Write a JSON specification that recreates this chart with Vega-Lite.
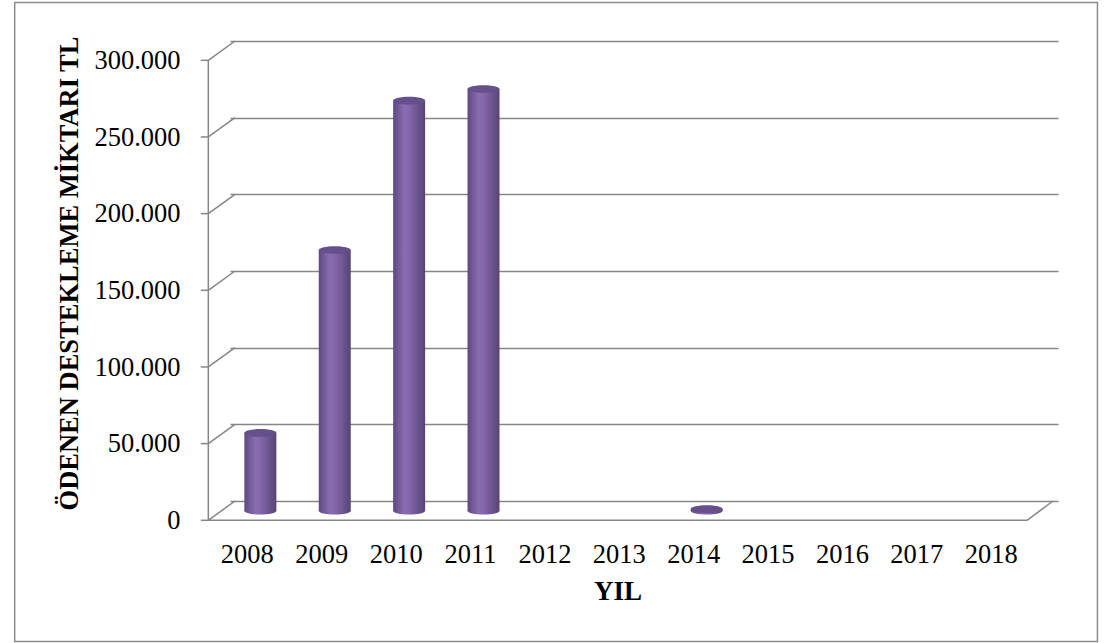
{
  "$schema": "https://vega.github.io/schema/vega-lite/v6.json",
  "autosize": {"type": "none"},
  "width": 828,
  "height": 460,
  "padding": {"left": 230, "top": 41, "right": 50, "bottom": 142},
  "background": "white",
  "config": {
    "view": {"stroke": null},
    "font": "Liberation Serif",
    "locale": {"number": {"decimal": ",", "thousands": ".", "grouping": [3], "currency": ["", ""]}}
  },
  "datasets": {
    "odeme": [
      {"yil": 2008, "tutar": 50700},
      {"yil": 2009, "tutar": 170000},
      {"yil": 2010, "tutar": 267400},
      {"yil": 2011, "tutar": 275000},
      {"yil": 2012, "tutar": 0},
      {"yil": 2013, "tutar": 0},
      {"yil": 2014, "tutar": 1000},
      {"yil": 2015, "tutar": 0},
      {"yil": 2016, "tutar": 0},
      {"yil": 2017, "tutar": 0},
      {"yil": 2018, "tutar": 0}
    ],
    "izgara": [
      {"v": 0}, {"v": 50000}, {"v": 100000}, {"v": 150000},
      {"v": 200000}, {"v": 250000}, {"v": 300000}
    ]
  },
  "layer": [
    {
      "data": {"name": "odeme"},
      "mark": {"type": "bar", "opacity": 0},
      "encoding": {
        "x": {"field": "yil", "type": "quantitative", "scale": {"domain": [2007.8406, 2018.8366], "nice": false, "zero": false},
          "axis": {"values": [2008, 2009, 2010, 2011, 2012, 2013, 2014, 2015, 2016, 2017, 2018], "format": "d", "grid": false, "ticks": false, "domain": false,
            "labelFont": "Liberation Serif", "labelFontSize": 26.5, "labelColor": "#000000", "labelPadding": 40, "labelFlush": false, "labelOverlap": false, "labelBound": false,
            "title": "YIL", "titleFont": "Liberation Serif", "titleFontSize": 27, "titleFontWeight": "bold", "titleColor": "#000000", "titleX": 387.5, "titleY": 90.5, "titleBaseline": "middle", "titleAnchor": "middle"}},
        "y": {"field": "tutar", "type": "quantitative", "scale": {"domain": [0, 300000], "nice": false},
          "axis": {"values": [0, 50000, 100000, 150000, 200000, 250000, 300000], "format": ",d", "grid": true, "gridColor": "#868686", "gridWidth": 1.5, "ticks": false, "domain": false,
            "labelFont": "Liberation Serif", "labelFontSize": 26.5, "labelColor": "#000000", "labelPadding": 50, "labelOffset": 19.5, "labelBaseline": "middle", "labelFlush": false, "labelOverlap": false, "labelBound": false,
            "title": "ÖDENEN DESTEKLEME MİKTARI TL", "titleFont": "Liberation Serif", "titleFontSize": 26.5, "titleFontWeight": "bold", "titleColor": "#000000", "titleX": -161, "titleY": 232, "titleBaseline": "middle", "titleAngle": 270, "titleAnchor": "middle"}}
      }
    },
    {
      "data": {"values": [{}]},
      "mark": {"type": "rect", "filled": false, "stroke": "#8c8c8c", "strokeWidth": 1.5},
      "encoding": {
        "x": {"datum": 2004.879, "type": "quantitative"},
        "x2": {"datum": 2019.434},
        "y": {"datum": 325109, "type": "quantitative"},
        "y2": {"datum": -91630}
      }
    },
    {
      "data": {"name": "izgara"},
      "mark": {"type": "rule", "color": "#868686", "strokeWidth": 1.5, "yOffset": 19.3},
      "encoding": {
        "x": {"datum": 2007.482, "type": "quantitative"},
        "x2": {"datum": 2007.8406},
        "y": {"field": "v", "type": "quantitative"},
        "y2": {"field": "v"}
      }
    },
    {
      "data": {"name": "izgara"},
      "mark": {"type": "rule", "color": "#868686", "strokeWidth": 1.5, "yOffset": 19.3, "xOffset": -7.5},
      "encoding": {
        "x": {"datum": 2007.482, "type": "quantitative"},
        "x2": {"datum": 2007.482},
        "y": {"field": "v", "type": "quantitative"}
      }
    },
    {
      "data": {"values": [{}]},
      "mark": {"type": "rule", "color": "#868686", "strokeWidth": 1.5, "yOffset": 19.3, "y2Offset": 19.3},
      "encoding": {
        "x": {"datum": 2007.482, "type": "quantitative"},
        "y": {"datum": 0, "type": "quantitative"},
        "y2": {"datum": 300000}
      }
    },
    {
      "data": {"values": [{}]},
      "mark": {"type": "rule", "color": "#868686", "strokeWidth": 1.5, "yOffset": 19.3},
      "encoding": {
        "x": {"datum": 2007.482, "type": "quantitative"},
        "x2": {"datum": 2018.487},
        "y": {"datum": 0, "type": "quantitative"}
      }
    },
    {
      "data": {"values": [{}]},
      "mark": {"type": "rule", "color": "#868686", "strokeWidth": 1.5, "yOffset": 19.3},
      "encoding": {
        "x": {"datum": 2018.487, "type": "quantitative"},
        "x2": {"datum": 2018.8366},
        "y": {"datum": 0, "type": "quantitative"},
        "y2": {"datum": 0}
      }
    },
    {
      "data": {"name": "odeme"},
      "transform": [{"filter": "datum.tutar > 0"}],
      "mark": {"type": "point", "shape": "M-1,0A1,0.24,0,1,0,1,0A1,0.24,0,1,0,-1,0Z", "size": 1024, "filled": true, "opacity": 1, "strokeWidth": 0, "xOffset": 13.5, "yOffset": 9.7,
        "fill": {"gradient": "linear", "x1": 0, "y1": 0, "x2": 1, "y2": 0, "stops": [{"offset": 0, "color": "#5d4982"}, {"offset": 0.35, "color": "#8a6db0"}, {"offset": 0.5, "color": "#8467aa"}, {"offset": 1, "color": "#574477"}]}},
      "encoding": {
        "x": {"field": "yil", "type": "quantitative"},
        "y": {"datum": 0, "type": "quantitative"}
      }
    },
    {
      "data": {"name": "odeme"},
      "transform": [{"filter": "datum.tutar > 0"}],
      "mark": {"type": "bar", "width": 32, "xOffset": 13.5, "yOffset": 9.7, "y2Offset": 9.7,
        "fill": {"gradient": "linear", "x1": 0, "y1": 0, "x2": 1, "y2": 0, "stops": [{"offset": 0, "color": "#5d4982"}, {"offset": 0.35, "color": "#8a6db0"}, {"offset": 0.5, "color": "#8467aa"}, {"offset": 1, "color": "#574477"}]}},
      "encoding": {
        "x": {"field": "yil", "type": "quantitative"},
        "y": {"field": "tutar", "type": "quantitative"},
        "y2": {"datum": 0}
      }
    },
    {
      "data": {"name": "odeme"},
      "transform": [{"filter": "datum.tutar > 0"}],
      "mark": {"type": "point", "shape": "M-1,0A1,0.24,0,1,0,1,0A1,0.24,0,1,0,-1,0Z", "size": 1024, "filled": true, "opacity": 1, "strokeWidth": 0, "xOffset": 13.5, "yOffset": 9.7, "fill": "#66508c"},
      "encoding": {
        "x": {"field": "yil", "type": "quantitative"},
        "y": {"field": "tutar", "type": "quantitative"}
      }
    }
  ]
}
